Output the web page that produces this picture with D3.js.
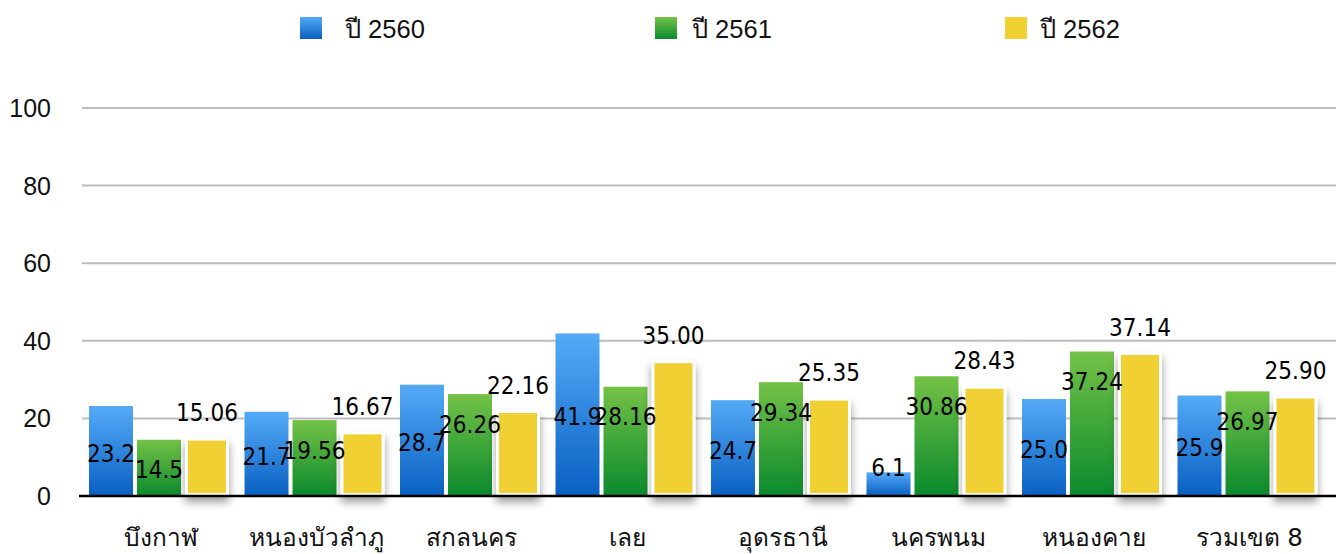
<!DOCTYPE html>
<html><head><meta charset="utf-8">
<script src="https://cdn.jsdelivr.net/npm/d3@7"></script>
<style>
html,body{margin:0;padding:0;background:#fff;}
svg{display:block;}
</style></head>
<body>
<svg id="c" width="1336" height="554"></svg>
<script>
const categories = ["บึงกาฬ","หนองบัวลำภู","สกลนคร","เลย","อุดรธานี","นครพนม","หนองคาย","รวมเขต 8"];
const seriesNames = ["ปี 2560","ปี 2561","ปี 2562"];
const values2560 = [23.2,21.7,28.7,41.9,24.7,6.1,25.0,25.9];
const values2561 = [14.5,19.56,26.26,28.16,29.34,30.86,37.24,26.97];
const values2562 = [15.06,16.67,22.16,35.00,25.35,28.43,37.14,25.90];
const yTicks = [0,20,40,60,80,100];

const svg = d3.select("#c");
const defs = svg.append("defs");
function grad(id, top, bottom){
  const g = defs.append("linearGradient").attr("id",id).attr("x1",0).attr("y1",0).attr("x2",0).attr("y2",1);
  g.append("stop").attr("offset","0%").attr("stop-color",top);
  g.append("stop").attr("offset","100%").attr("stop-color",bottom);
}
grad("gBlue","#55aaf7","#0860c2");
grad("gGreen","#74c247","#0a8a2c");
const f = defs.append("filter").attr("id","shadow").attr("x","-30%").attr("y","-30%").attr("width","160%").attr("height","160%");
f.append("feDropShadow").attr("dx",0).attr("dy",6).attr("stdDeviation",4).attr("flood-color","#000").attr("flood-opacity",0.4);

const x0 = d3.scaleBand().domain(categories).range([83,1327]);
const x1 = d3.scaleBand().domain(seriesNames).range([6,146]).paddingInner(0.0833).paddingOuter(0);
const y = d3.scaleLinear().domain([0,100]).range([496,108]);

// grid
svg.append("g").selectAll("line").data(yTicks.filter(t=>t>0)).join("line")
  .attr("x1",82).attr("x2",1336).attr("y1",d=>y(d)).attr("y2",d=>y(d))
  .attr("stroke","#bdbdbd").attr("stroke-width",2);
// y labels
svg.append("g").selectAll("text").data(yTicks).join("text")
  .attr("x",51).attr("y",d=>y(d)).attr("dy","0.36em").attr("text-anchor","end")
  .attr("font-family","Liberation Sans, Arial, sans-serif").attr("font-size",25).attr("fill","#111")
  .text(d=>d);

const series = [
  {name:seriesNames[0], vals:values2560, fill:"url(#gBlue)", fmt:d3.format(".1f")},
  {name:seriesNames[1], vals:values2561, fill:"url(#gGreen)", fmt:d=>String(d)},
  {name:seriesNames[2], vals:values2562, fill:"#f0d031", fmt:d3.format(".2f")}
];

const bars = svg.append("g");
series.forEach((s,si)=>{
  const g = bars.append("g");
  const rows = categories.map((c,i)=>({c, v:s.vals[i]}));
  if(si===2){
    g.selectAll("rect").data(rows).join("rect")
      .attr("x",d=>x0(d.c)+x1(s.name)+1.5).attr("width",x1.bandwidth()-3)
      .attr("y",d=>y(d.v)+1.5).attr("height",d=>y(0)-y(d.v)-3)
      .attr("fill",s.fill).attr("stroke","#fff").attr("stroke-width",3)
      .attr("filter","url(#shadow)");
  } else {
    g.selectAll("rect").data(rows).join("rect")
      .attr("x",d=>x0(d.c)+x1(s.name)).attr("width",x1.bandwidth())
      .attr("y",d=>y(d.v)).attr("height",d=>y(0)-y(d.v))
      .attr("fill",s.fill);
  }
});
// baseline
svg.append("line").attr("x1",79).attr("x2",1336).attr("y1",y(0)).attr("y2",y(0))
  .attr("stroke","#000").attr("stroke-width",2.5);

// value labels
const lab = svg.append("g").attr("font-family","DejaVu Sans Condensed, DejaVu Sans, sans-serif").attr("font-size",24).attr("fill","#000");
series.forEach((s,si)=>{
  categories.forEach((c,i)=>{
    const v = s.vals[i];
    const top = y(v), h = y(0)-top;
    let cy;
    if(si===0) cy = h < 40 ? top - 5 : top + h/2 + 2;
    else if(si===1) cy = top + 30;
    else cy = top - 25;
    lab.append("text").attr("x",x0(c)+x1(s.name)+x1.bandwidth()/2).attr("y",cy)
      .attr("dy","0.36em").attr("text-anchor","middle").text(s.fmt(v));
  });
});

// category labels
svg.append("g").selectAll("text").data(categories).join("text")
  .attr("x",d=>x0(d)+x0.bandwidth()/2).attr("y",537).attr("dy","0.36em")
  .attr("text-anchor","middle").attr("font-family","Tahoma, DejaVu Sans, Noto Sans, sans-serif").attr("font-size",24.5).attr("fill","#111")
  .text(d=>d);

// legend
const legX = [300,655,1005];
const legTextX = [345,692,1040];
const legFill = ["url(#gBlue)","url(#gGreen)","#f0d031"];
const leg = svg.append("g");
seriesNames.forEach((n,i)=>{
  leg.append("rect").attr("x",legX[i]).attr("y",17).attr("width",22).attr("height",22).attr("fill",legFill[i]);
  leg.append("text").attr("x",legTextX[i]).attr("y",29).attr("dy","0.36em")
    .attr("font-family","Liberation Sans, Arial, sans-serif").attr("font-size",25.5).attr("fill","#111").text(n);
});
</script>
</body></html>
